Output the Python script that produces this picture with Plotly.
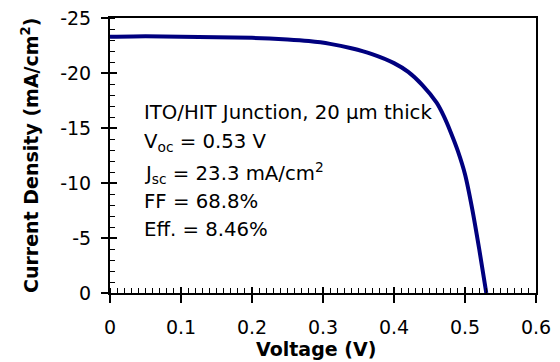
import plotly.graph_objects as go

voltage = [0.0, 0.05, 0.10, 0.15, 0.20, 0.25, 0.28, 0.31, 0.34, 0.37, 0.40, 0.42,
           0.44, 0.46, 0.47, 0.48, 0.49, 0.50, 0.51, 0.52, 0.53]
current = [-23.3, -23.35, -23.3, -23.25, -23.2, -23.05, -22.9, -22.65, -22.25, -21.7,
           -20.9, -20.1, -18.9, -17.3, -16.1, -14.6, -12.9, -10.8, -7.7, -4.0, 0.0]

x_ticks = [0, 0.1, 0.2, 0.3, 0.4, 0.5, 0.6]
x_tick_labels = ["0", "0.1", "0.2", "0.3", "0.4", "0.5", "0.6"]
y_ticks = [0, -5, -10, -15, -20, -25]
y_tick_labels = ["0", "-5", "-10", "-15", "-20", "-25"]

notes = [
    "ITO/HIT Junction, 20 \u03bcm thick",
    "V<sub>oc</sub> = 0.53 V",
    "J<sub>sc</sub> = 23.3 mA/cm<sup>2</sup>",
    "FF = 68.8%",
    "Eff. = 8.46%",
]
note_y = [-16.4, -13.7, -10.95, -8.3, -5.75]
note_x = 0.045

x_title = "<b>Voltage (V)</b>"
y_title = "<b>Current Density (mA/cm<sup>2</sup>)</b>"

FONT = "DejaVu Sans"
LINE_COLOR = "#00007f"
TICK_FS = 19
TITLE_FS = 19
NOTE_FS = 19.7

# The page body adds an 8px offset; the figure is sized to fill the rest of the window.
fig = go.Figure()
fig.add_trace(go.Scatter(x=voltage, y=current, mode="lines",
                         line=dict(color=LINE_COLOR, width=4, shape="spline", smoothing=0.6),
                         showlegend=False, hoverinfo="skip"))
fig.add_trace(go.Scatter(x=voltage, y=current, mode="lines", xaxis="x2", yaxis="y2",
                         line=dict(color="rgba(0,0,0,0)", width=0),
                         showlegend=False, hoverinfo="skip"))

for txt, yv in zip(notes, note_y):
    fig.add_annotation(x=note_x, y=yv, xref="x", yref="y", text=txt, showarrow=False,
                       xanchor="left", yanchor="middle",
                       font=dict(family=FONT, size=NOTE_FS, color="black"))

fig.add_annotation(x=0.4836, y=-0.2036, xref="paper", yref="paper", text=x_title,
                   showarrow=False, xanchor="center", yanchor="middle",
                   font=dict(family=FONT, size=TITLE_FS, color="black"))
fig.add_annotation(x=-0.1878, y=0.5018, xref="paper", yref="paper", text=y_title,
                   showarrow=False, xanchor="center", yanchor="middle", textangle=-90,
                   font=dict(family=FONT, size=TITLE_FS, color="black"))

common_axis = dict(showgrid=False, zeroline=False, linecolor="black", linewidth=2,
                   mirror=True, tickcolor="black", tickwidth=1.5, automargin=False,
                   ticklabeloverflow="allow")

fig.update_layout(
    width=552, height=354,
    margin=dict(l=102, r=24, t=10, b=69),
    plot_bgcolor="white", paper_bgcolor="white",
    font=dict(family=FONT, size=TICK_FS, color="black"),
    xaxis=dict(range=[0, 0.6], tickvals=x_ticks, ticktext=x_tick_labels,
               ticks="outside", ticklen=8, ticklabelstandoff=8,
               minor=dict(dtick=0.01, ticks="inside", ticklen=5, tickcolor="black", tickwidth=1),
               tickfont=dict(size=TICK_FS), **common_axis),
    yaxis=dict(range=[0, -25], tickvals=y_ticks, ticktext=y_tick_labels,
               ticks="outside", ticklen=7, ticklabelstandoff=6,
               minor=dict(dtick=1, ticks="inside", ticklen=5, tickcolor="black", tickwidth=1),
               tickfont=dict(size=TICK_FS), **common_axis),
    xaxis2=dict(overlaying="x", matches="x", range=[0, 0.6], tickvals=x_ticks,
                showticklabels=False, ticks="inside", ticklen=6, tickcolor="black",
                tickwidth=1.5, showgrid=False, zeroline=False, showline=False),
    yaxis2=dict(overlaying="y", matches="y", range=[0, -25], tickvals=y_ticks,
                showticklabels=False, ticks="inside", ticklen=7, tickcolor="black",
                tickwidth=1.5, showgrid=False, zeroline=False, showline=False),
)

fig.write_html("out.html")
